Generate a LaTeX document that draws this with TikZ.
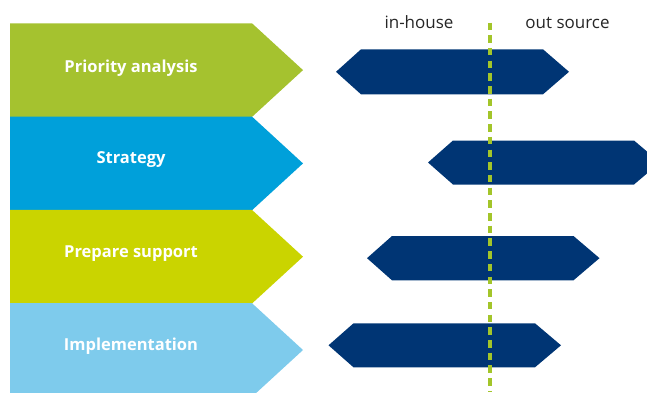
\documentclass[tikz,border=0pt]{standalone}
\usepackage{fontspec}
\setmainfont{Open Sans}
\definecolor{cgreen}{HTML}{A5C22F}
\definecolor{cblue}{HTML}{00A0DA}
\definecolor{cyellow}{HTML}{CAD400}
\definecolor{clight}{HTML}{7ECBEC}
\definecolor{cnavy}{HTML}{003574}
\definecolor{cdash}{HTML}{A3C52A}
\tikzset{
  steplabel/.style={text=white,font=\fontsize{16.5}{19}\selectfont\bfseries,anchor=center},
  headlabel/.style={text=black!85,font=\fontsize{17}{20}\selectfont,anchor=base},
  divider/.style={cdash,line width=3.2pt,dash pattern=on 7.5pt off 5.2pt},
}
\begin{document}
\begin{tikzpicture}[x=1pt,y=-1pt]
\useasboundingbox (0,0) rectangle (647,392);
\begin{scope}
\clip (0,0) rectangle (647,392);
% step chevrons: body from x=10 to 252, tip at 303
\foreach \i/\col in {0/cgreen,1/cblue,2/cyellow,3/clight}{
  \pgfmathsetmacro{\top}{23.3+93.3*\i}
  \pgfmathsetmacro{\bot}{\top+93.6}
  \pgfmathsetmacro{\mid}{\top+46.8}
  \fill[\col] (10,\top) -- (252,\top) -- (303,\mid) -- (252,\bot) -- (10,\bot) -- cycle;
}
% sourcing bars: left tip, right tip, top, bottom
\foreach \l/\r/\t/\b in {336/569/49.3/94.3, 428/660/140.5/184.5, 367/599.5/236/280.3, 328.5/561/323.3/367.3}{
  \pgfmathsetmacro{\m}{(\t+\b)/2}
  \fill[cnavy] (\l,\m) -- (\l+25,\t) -- (\r-26,\t) -- (\r,\m) -- (\r-26,\b) -- (\l+25,\b) -- cycle;
}
\end{scope}
\node[steplabel] (s1) at (131,68.5) {Priority analysis};
\node[steplabel] (s2) at (131,160) {Strategy};
\node[steplabel] (s3) at (131,253.5) {Prepare support};
\node[steplabel] (s4) at (131,346) {Implementation};
\node[headlabel] (inh) at (419,28) {in-house};
\node[headlabel] (outs) at (567.5,28) {out source};
\coordinate (dtop) at (490,22.5);
\coordinate (dbot) at (490,392);
\draw[divider] (dtop) -- (dbot);
\end{tikzpicture}
\end{document}
